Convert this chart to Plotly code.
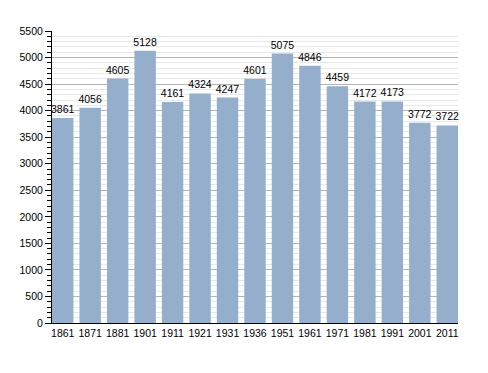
import plotly.graph_objects as go

years = ["1861", "1871", "1881", "1901", "1911", "1921", "1931", "1936",
         "1951", "1961", "1971", "1981", "1991", "2001", "2011"]
population = [3861, 4056, 4605, 5128, 4161, 4324, 4247, 4601,
              5075, 4846, 4459, 4172, 4173, 3772, 3722]

fig = go.Figure(go.Bar(
    x=years, y=population,
    marker=dict(color="#94aecb", line=dict(width=0)),
    text=[str(v) for v in population],
    textposition="outside",
    constraintext="none",
    textfont=dict(family="Liberation Sans, Arial", size=10.5, color="#000000"),
    cliponaxis=False,
))

fig.update_layout(
    width=488, height=373,
    margin=dict(l=42, r=38, t=23, b=58),
    paper_bgcolor="white", plot_bgcolor="white",
    bargap=0.22,
    showlegend=False,
    font=dict(family="Liberation Sans, Arial", size=10, color="#000000"),
)
fig.update_xaxes(
    type="category",
    range=[-0.39, 14.39],
    showline=True, linecolor="#000000", linewidth=1,
    ticks="", showgrid=False,
    tickfont=dict(size=10.5),
)
fig.update_yaxes(
    range=[0, 5500],
    dtick=500, tick0=0,
    showline=True, linecolor="#000000", linewidth=1,
    ticks="outside", ticklen=6, tickcolor="#000000",
    showgrid=True, gridcolor="#b4b4b4", gridwidth=1,
    zeroline=False,
    minor=dict(dtick=100, showgrid=True, gridcolor="#e8e8e8",
               ticks="outside", ticklen=4, tickcolor="#000000"),
    tickfont=dict(size=10.5),
)

fig.write_html("out.html")
